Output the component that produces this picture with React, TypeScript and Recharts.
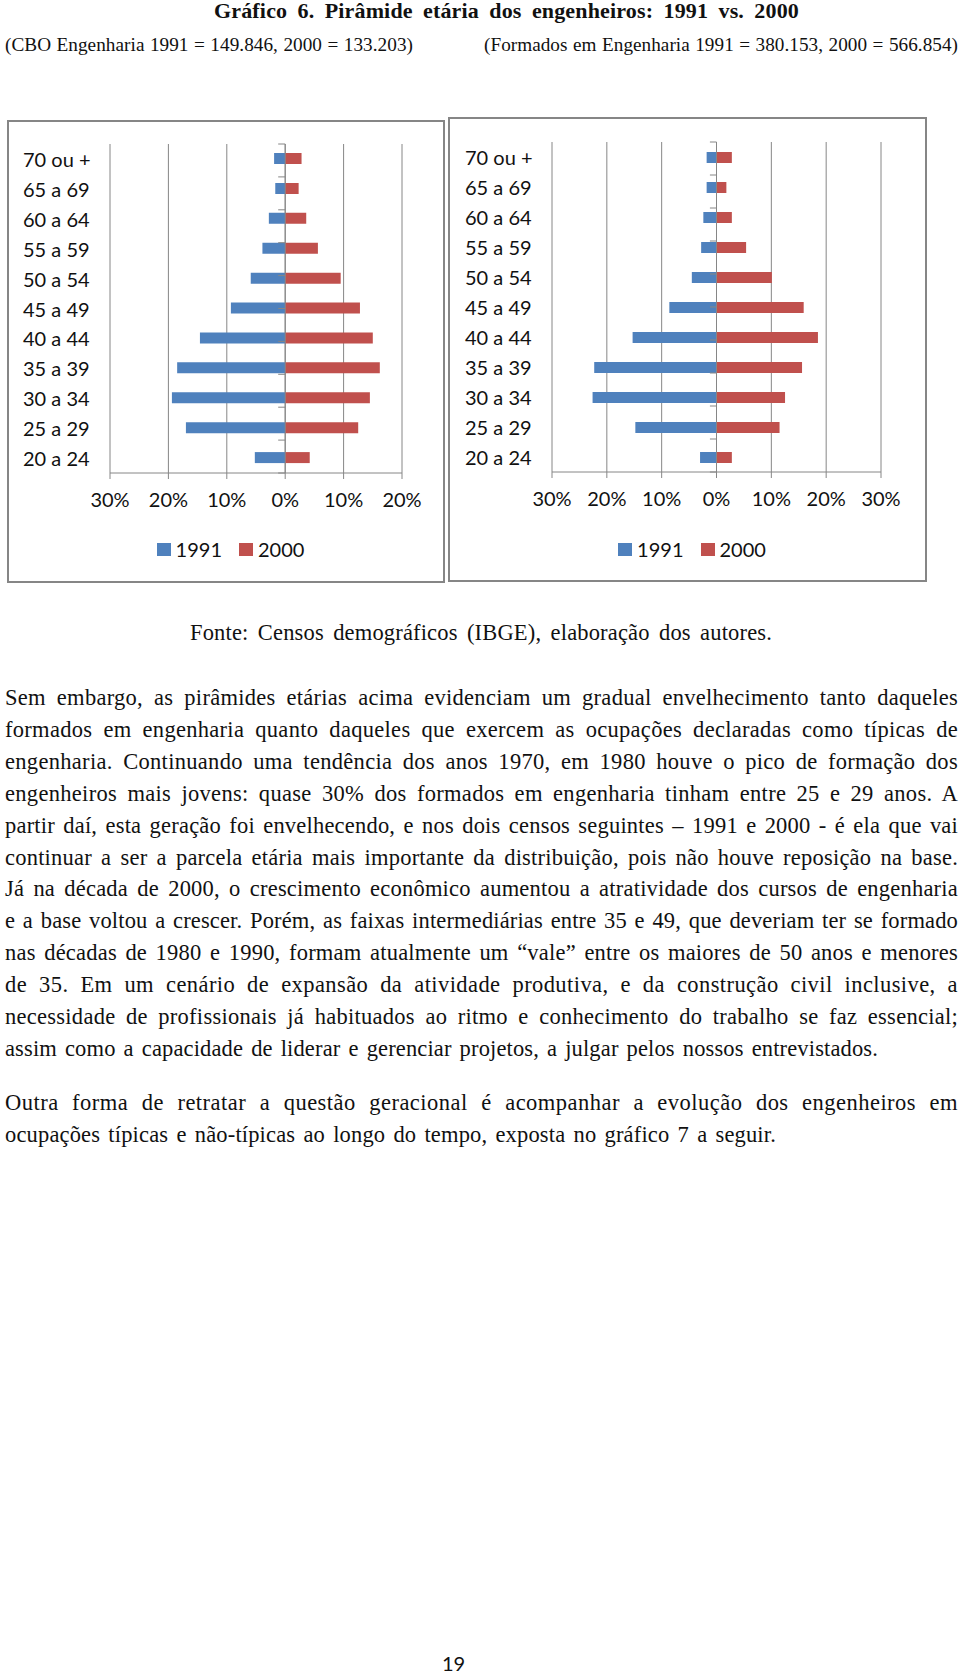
import React from "react";
import {
  BarChart, Bar, XAxis, YAxis, CartesianGrid, ReferenceLine, Legend,
} from "recharts";

// Age groups, top of the pyramid first
const ageGroups = [
  "70 ou +", "65 a 69", "60 a 64", "55 a 59", "50 a 54", "45 a 49",
  "40 a 44", "35 a 39", "30 a 34", "25 a 29", "20 a 24",
];

// CBO Engenharia (% of total)
const cbo1991 = [1.9, 1.7, 2.8, 3.9, 5.9, 9.3, 14.6, 18.5, 19.4, 17.0, 5.2];
const cbo2000 = [2.8, 2.3, 3.6, 5.6, 9.5, 12.8, 15.0, 16.2, 14.5, 12.5, 4.2];

// Formados em Engenharia (% of total)
const grad1991 = [1.8, 1.8, 2.4, 2.8, 4.5, 8.6, 15.3, 22.3, 22.6, 14.8, 3.0];
const grad2000 = [2.8, 1.8, 2.8, 5.4, 10.1, 15.9, 18.5, 15.6, 12.5, 11.5, 2.8];

const leftTicks = [-30, -20, -10, 0, 10, 20];
const rightTicks = [-30, -20, -10, 0, 10, 20, 30];
const seriesNames = ["1991", "2000"];

const BLUE = "#4F81BD";
const RED = "#C0504D";
const GRID = "#868686";
const CHART_FONT = "Lato, 'Open Sans', sans-serif";
const PAGE_FONT = "'Liberation Serif', 'Times New Roman', serif";

const paragraph1 = [
  "Sem embargo, as pirâmides etárias acima evidenciam um gradual envelhecimento tanto daqueles",
  "formados em engenharia quanto daqueles que exercem as ocupações declaradas como típicas de",
  "engenharia. Continuando uma tendência dos anos 1970, em 1980 houve o pico de formação dos",
  "engenheiros mais jovens: quase 30% dos formados em engenharia tinham entre 25 e 29 anos. A",
  "partir daí, esta geração foi envelhecendo, e nos dois censos seguintes – 1991 e 2000 - é ela que vai",
  "continuar a ser a parcela etária mais importante da distribuição, pois não houve reposição na base.",
  "Já na década de 2000, o crescimento econômico aumentou a atratividade dos cursos de engenharia",
  "e a base voltou a crescer. Porém, as faixas intermediárias entre 35 e 49, que deveriam ter se formado",
  "nas décadas de 1980 e 1990, formam atualmente um “vale” entre os maiores de 50 anos e menores",
  "de 35. Em um cenário de expansão da atividade produtiva, e da construção civil inclusive, a",
  "necessidade de profissionais já habituados ao ritmo e conhecimento do trabalho se faz essencial;",
  "assim como a capacidade de liderar e gerenciar projetos, a julgar pelos nossos entrevistados.",
];
const paragraph2 = [
  "Outra forma de retratar a questão geracional é acompanhar a evolução dos engenheiros em",
  "ocupações típicas e não-típicas ao longo do tempo, exposta no gráfico 7 a seguir.",
];

function buildRows(a: number[], b: number[]) {
  return ageGroups.map((age, i) => ({ age, y1991: -a[i], y2000: b[i] }));
}

type Margin = { top: number; right: number; bottom: number; left: number };

function Pyramid({
  rows, ticks, width, height, margin, axisHeight,
}: {
  rows: ReturnType<typeof buildRows>;
  ticks: number[];
  width: number;
  height: number;
  margin: Margin;
  axisHeight: number;
}) {
  const boundaries = Array.from({ length: ageGroups.length + 1 }, (_, k) => k);
  return (
    <BarChart
      width={width}
      height={height}
      data={rows}
      layout="vertical"
      stackOffset="sign"
      margin={margin}
      barSize={11}
    >
      <CartesianGrid horizontal={false} stroke={GRID} />
      <XAxis
        type="number"
        domain={[ticks[0], ticks[ticks.length - 1]]}
        ticks={ticks}
        allowDataOverflow
        height={axisHeight}
        stroke={GRID}
        tickSize={6}
        tickMargin={14}
        tick={{ fill: "#111", fontSize: 20, fontFamily: CHART_FONT }}
        tickFormatter={(v: number) => `${Math.abs(v)}%`}
      />
      <YAxis
        type="category"
        dataKey="age"
        width={87}
        axisLine={false}
        tickLine={false}
        tick={(p: any) => (
          <text
            x={margin.left}
            y={p.y}
            dominantBaseline="central"
            textAnchor="start"
            fill="#111"
            fontSize={20}
            fontFamily={CHART_FONT}
          >
            {p.payload.value}
          </text>
        )}
      />
      <YAxis yAxisId="edge" type="number" domain={[0, ageGroups.length]} hide />
      <Bar dataKey="y1991" name="1991" stackId="s" fill={BLUE} isAnimationActive={false} />
      <Bar dataKey="y2000" name="2000" stackId="s" fill={RED} isAnimationActive={false} />
      <ReferenceLine x={0} stroke={GRID} />
      {boundaries.map((k) => (
        <ReferenceLine
          key={k}
          yAxisId="edge"
          segment={[{ x: -1.2, y: k }, { x: 0, y: k }]}
          stroke={GRID}
        />
      ))}
      <Legend
        verticalAlign="bottom"
        wrapperStyle={{ left: 0, width }}
        content={() => (
          <div
            style={{
              height: 24,
              display: "flex",
              justifyContent: "center",
              alignItems: "center",
              paddingLeft: 9,
              fontFamily: CHART_FONT,
              fontSize: 20,
              color: "#111",
            }}
          >
            {seriesNames.map((name, i) => (
              <span key={name} style={{ display: "flex", alignItems: "center", marginRight: i === 0 ? 17 : 0 }}>
                <span style={{ width: 14, height: 13, background: i === 0 ? BLUE : RED, marginRight: 5 }} />
                {name}
              </span>
            ))}
          </div>
        )}
      />
    </BarChart>
  );
}

let measureCtx: CanvasRenderingContext2D | null = null;
function textWidth(text: string, font: string) {
  if (!measureCtx) measureCtx = document.createElement("canvas").getContext("2d");
  if (!measureCtx) return 0;
  measureCtx.font = font;
  return measureCtx.measureText(text).width;
}

function TextLine({
  text, left, width, cy, size, bold, justify = true, font = PAGE_FONT, lh = 32, share = 0.3,
}: {
  text: string; left: number; width: number; cy: number; size: number;
  bold?: boolean; justify?: boolean; font?: string; lh?: number; share?: number;
}) {
  // shrink the font if the line would not fit, then give a share of the
  // remaining slack to the letters; justify spreads the rest over the gaps
  let fontSize = size;
  let spacing = 0;
  if (justify) {
    const weight = bold ? "700 " : "";
    let natural = textWidth(text, `${weight}${fontSize}px ${font}`);
    if (natural > width * 0.985) {
      fontSize = (fontSize * width * 0.985) / natural;
      natural = textWidth(text, `${weight}${fontSize}px ${font}`);
    }
    spacing = Math.max(0, ((width - natural) * share) / text.length);
  }
  return (
    <div
      style={{
        position: "absolute",
        left,
        top: cy - lh / 2,
        width,
        lineHeight: `${lh}px`,
        fontSize,
        fontFamily: font,
        fontWeight: bold ? 700 : 400,
        letterSpacing: spacing,
        color: "#111",
        textAlign: justify ? "justify" : "left",
        textAlignLast: justify ? "justify" : "auto",
      }}
    >
      {text}
    </div>
  );
}

function ChartBox({ left, top, width, height, children }: any) {
  return (
    <div style={{ position: "absolute", left, top, width, height }}>
      {children}
      <div
        style={{
          position: "absolute",
          inset: 0,
          border: `2px solid ${GRID}`,
          pointerEvents: "none",
        }}
      />
    </div>
  );
}

export default function App() {
  const p1Y = [698, 730, 762, 794, 826, 858, 889, 921, 953, 985, 1017, 1049];
  const p2Y = [1103, 1135];
  const bodySize = 22.5;
  return (
    <div style={{ position: "absolute", left: 0, top: 0, width: 960, height: 1675, background: "#fff" }}>
      <TextLine
        text="Gráfico 6. Pirâmide etária dos engenheiros: 1991 vs. 2000"
        left={214} width={585} cy={11} size={22} bold lh={24} share={0.2}
      />
      <TextLine text="(CBO Engenharia 1991 = 149.846, 2000 = 133.203)" left={5} width={408} cy={45} size={19.5} lh={24} />
      <TextLine text="(Formados em Engenharia 1991 = 380.153, 2000 = 566.854)" left={484} width={474} cy={45} size={19.5} lh={24} />

      <ChartBox left={7} top={120} width={438} height={463}>
        <Pyramid
          rows={buildRows(cbo1991, cbo2000)}
          ticks={leftTicks}
          width={438}
          height={463}
          margin={{ top: 24, right: 43, left: 16, bottom: 22 }}
          axisHeight={64}
        />
      </ChartBox>
      <ChartBox left={448} top={117} width={479} height={465}>
        <Pyramid
          rows={buildRows(grad1991, grad2000)}
          ticks={rightTicks}
          width={479}
          height={465}
          margin={{ top: 25, right: 46, left: 17, bottom: 21 }}
          axisHeight={65}
        />
      </ChartBox>

      <TextLine text="Fonte: Censos demográficos (IBGE), elaboração dos autores." left={190} width={582} cy={633} size={bodySize} />

      {paragraph1.map((t, i) => (
        <TextLine
          key={i}
          text={t}
          left={5}
          width={i === paragraph1.length - 1 ? 873 : 953}
          cy={p1Y[i]}
          size={bodySize}
        />
      ))}
      {paragraph2.map((t, i) => (
        <TextLine
          key={i}
          text={t}
          left={5}
          width={i === paragraph2.length - 1 ? 771 : 953}
          cy={p2Y[i]}
          size={bodySize}
        />
      ))}

      <TextLine text="19" left={442} width={80} cy={1663} size={20} justify={false} font={CHART_FONT} lh={24} />
    </div>
  );
}
